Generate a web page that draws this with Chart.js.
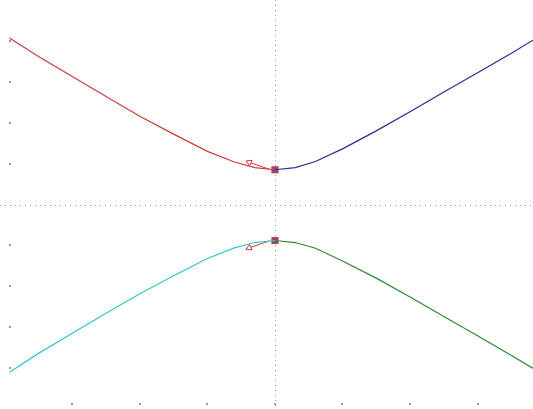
<!DOCTYPE html>
<html lang="en">
<head>
  <meta charset="UTF-8">
  <title>Hyperbola branches</title>
  <script src="https://cdn.jsdelivr.net/npm/chart.js"></script>
  <style>
    html, body { margin: 0; padding: 0; background: #fff; overflow: hidden; }
    canvas { display: block; }
  </style>
</head>
<body>
<canvas id="hyperChart" width="533" height="409"></canvas>

<script>
  // x positions of the polyline vertices
  const xLeft = [-3.93, -3.5, -3, -2.5, -2, -1.5, -1, -0.6, -0.3, 0];
  const xRight = [0, 0.3, 0.6, 1, 1.5, 2, 2.5, 3, 3.5, 3.9];

  // branch values
  const upperLeft = [4.07, 3.62, 3.13, 2.64, 2.16, 1.72, 1.3, 1.04, 0.9, 0.85];
  const lowerLeft = [-4.1, -3.64, -3.15, -2.66, -2.18, -1.74, -1.32, -1.06, -0.93, -0.88];
  const upperRight = [0.85, 0.9, 1.05, 1.36, 1.8, 2.27, 2.75, 3.22, 3.7, 4.1];
  const lowerRight = [-0.88, -0.93, -1.07, -1.38, -1.8, -2.26, -2.74, -3.21, -3.69, -4.08];

  // vertex markers and the little arrows next to them
  const vertexY = [0.85, -0.88];
  const arrowUpper = [[-0.08, 0.86], [-0.38, 1.03]];
  const arrowLower = [[-0.08, -0.89], [-0.38, -1.06]];

  // tick marks along the edges
  const xTicks = [-3, -2, -1, 0, 1, 2, 3];
  const yTicks = [-4, -3, -2, -1, 1, 2, 3, 4];

  const pts = (xs, ys) => xs.map((x, i) => ({ x, y: ys[i] }));

  function branch(data, color) {
    return { data, borderColor: color, borderWidth: 1.2, showLine: true,
             pointRadius: 0, tension: 0, fill: false };
  }

  function arrow(p, rot) {
    return {
      data: p.map(a => ({ x: a[0], y: a[1] })),
      borderColor: '#d03434', borderWidth: 1, showLine: true, tension: 0,
      pointStyle: 'triangle', pointRadius: [0, 3.5], rotation: rot,
      pointBorderColor: '#d03434', pointBackgroundColor: '#fff', pointBorderWidth: 1
    };
  }

  // dotted axes and tiny tick dots, placed through the chart scales
  const axesPlugin = {
    id: 'axesPlugin',
    beforeDatasetsDraw(chart) {
      const { ctx, chartArea: a, scales: { x, y } } = chart;
      const x0 = x.getPixelForValue(0), y0 = y.getPixelForValue(0);
      ctx.save();
      ctx.strokeStyle = '#999';
      ctx.lineWidth = 1;
      ctx.setLineDash([1, 4]);
      ctx.beginPath();
      ctx.moveTo(Math.round(x0) + 0.5, a.top);
      ctx.lineTo(Math.round(x0) + 0.5, a.bottom);
      ctx.moveTo(a.left, Math.round(y0) + 0.5);
      ctx.lineTo(a.right, Math.round(y0) + 0.5);
      ctx.stroke();
      ctx.setLineDash([]);
      ctx.fillStyle = '#999';
      xTicks.forEach(v => {
        ctx.fillRect(Math.round(x.getPixelForValue(v)) - 1, a.bottom - 6, 2, 2);
      });
      yTicks.forEach(v => {
        ctx.fillRect(a.left + 9, Math.round(y.getPixelForValue(v)) - 1, 2, 2);
      });
      ctx.restore();
    }
  };

  new Chart(document.getElementById('hyperChart'), {
    type: 'scatter',
    data: {
      datasets: [
        branch(pts(xLeft, upperLeft), '#d23a3a'),
        branch(pts(xRight, upperRight), '#2b2b9c'),
        branch(pts(xLeft, lowerLeft), '#38c4cc'),
        branch(pts(xRight, lowerRight), '#2e8a2e'),
        arrow(arrowUpper, -66),
        arrow(arrowLower, -114),
        {
          data: vertexY.map(v => ({ x: 0, y: v })),
          pointStyle: 'rect', pointRadius: 4, pointBorderWidth: 1.5,
          pointBorderColor: '#d03434', pointBackgroundColor: '#5a5ab8'
        },
        {
          data: vertexY.map(v => ({ x: 0, y: v })),
          pointStyle: 'crossRot', pointRadius: 3, pointBorderWidth: 1.2,
          pointBorderColor: '#1a1a8a'
        }
      ]
    },
    options: {
      responsive: false,
      animation: false,
      layout: { padding: 0, autoPadding: false },
      plugins: { legend: { display: false }, tooltip: { enabled: false } },
      scales: {
        x: { type: 'linear', display: false, min: -4.07, max: 3.82 },
        y: { type: 'linear', display: false, min: -5, max: 5 }
      }
    },
    plugins: [axesPlugin]
  });
</script>
</body>
</html>
